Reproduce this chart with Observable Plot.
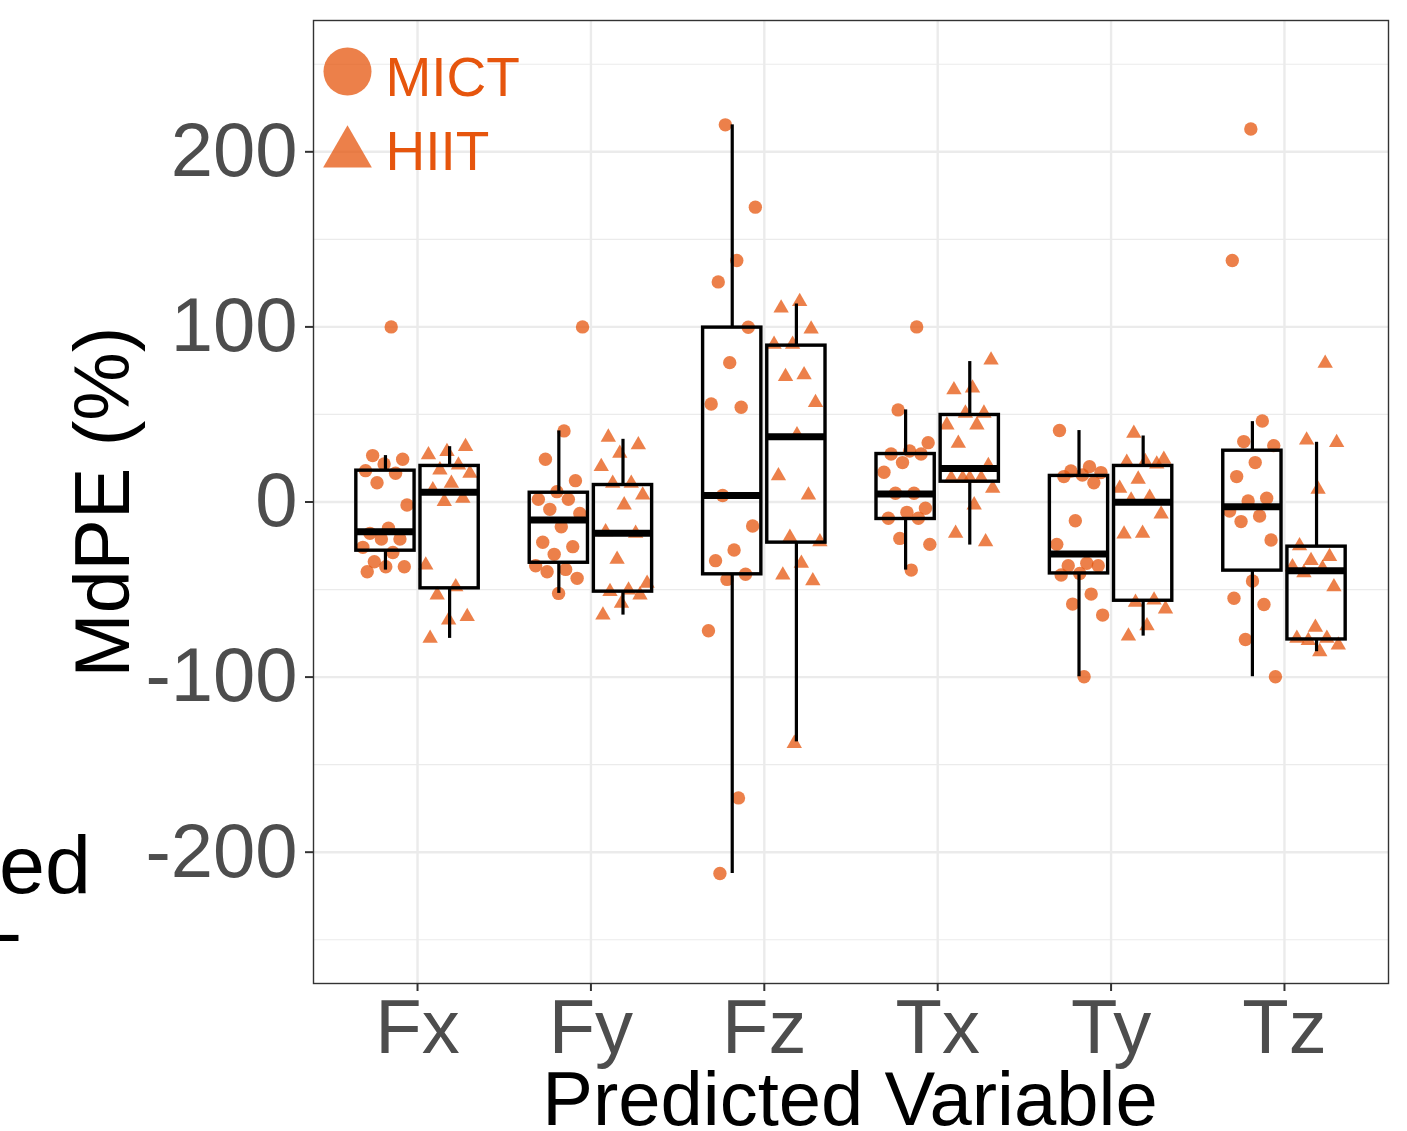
<!DOCTYPE html>
<html>
<head>
<meta charset="utf-8">
<script src="https://cdn.jsdelivr.net/npm/d3@7"></script>
<script src="https://cdn.jsdelivr.net/npm/@observablehq/plot@0.6"></script>
<style>
  html, body { margin: 0; padding: 0; background: #fff; overflow: hidden; }
  #chart { width: 1407px; height: 1131px; position: relative; overflow: hidden; }
</style>
</head>
<body>
<div id="chart"></div>
<script>
// ---------- data ----------
const categories = ["Fx", "Fy", "Fz", "Tx", "Ty", "Tz"];
const groups = ["MICT", "HIIT"];

const fxMICT = [100, 26.5, 24.4, 21.7, 17.9, 16.4, 11.0, -1.7, -15, -17.9, -21.1, -21.1, -25.9, -28.8, -34.1, -37, -37, -39.8];
const fxHIIT = [31.6, 28.8, 26.9, 21.1, 18.3, 16.4, 10.7, 6.9, 2.1, 0.2, -36, -48.4, -53.1, -65.5, -67.4, -77.9];
const fyMICT = [100, 40.6, 24.4, 12.2, 5.9, 1.5, 1.5, -4.2, -6.5, -14.1, -23, -25.5, -29.9, -36.4, -38.5, -39.8, -43.6, -52.2];
const fyHIIT = [37, 32.6, 27.8, 20.2, 10.7, 10.7, 4, -1.7, -17, -17.9, -32.8, -46.5, -50.3, -51.2, -53.1, -57.9, -64.6];
const fzMICT = [215.4, 168.4, 137.9, 125.7, 99.8, 79.6, 56, 54.1, 3.7, -13.7, -27.4, -33.5, -41.3, -44.2, -73.5, -169, -212.2];
const fzHIIT = [114.5, 110.7, 98.7, 90.1, 90.1, 72.6, 71.6, 56.8, 38.3, 14.9, 4, -20.2, -22.7, -35, -41.7, -45, -137.9];
const txMICT = [100, 52.6, 33.9, 29.1, 27.4, 27.4, 22.5, 17, 5, 5, -3.6, -5.9, -9.3, -9.3, -20.8, -24.2, -38.9];
const txHIIT = [81.1, 65, 64, 50.7, 50.7, 44, 44, 33.5, 20.8, 13.5, 13.5, 13.5, 13.5, 7.8, -1.7, -17.9, -22.7];
const tyMICT = [40.8, 20.2, 17.7, 16.8, 15.4, 14.5, 11, -10.7, -24.2, -35, -36.4, -36.4, -40.8, -41.7, -52.6, -58.3, -64.6, -99.8];
const tyHIIT = [39.2, 24.4, 23, 22.7, 21.7, 13, 7.8, 2.7, 1.1, -6.9, -17.9, -18.3, -56, -57.3, -61.1, -70.7, -76.6];
const tzMICT = [213, 137.9, 46.3, 34.5, 32.2, 22.5, 14.5, 2.1, 0.6, -5.1, -8, -11.2, -21.7, -45.1, -55, -58.5, -78.5, -99.8];
const tzHIIT = [79.2, 35.4, 33.9, 7.2, -25, -31.2, -33.5, -37, -37.9, -40.4, -48.4, -71.6, -77.9, -77.9, -79.2, -81.7, -85.5];

// box statistics, order: Fx MICT, Fx HIIT, Fy MICT, Fy HIIT, ... Tz HIIT
const boxQ1     = [-27.8, -49.3, -34.7, -51.2, -41.3, -23.2, -9.7, 11.6, -40.8, -56.4, -39.2, -78.5];
const boxMedian = [-17, 5.5, -10.3, -17.9, 3.7, 37.3, 4.6, 19.2, -29.7, -0.2, -2.7, -39.2];
const boxQ3     = [17.9, 20.6, 5.3, 9.7, 99.6, 89.3, 27.4, 49.7, 14.9, 20.6, 29.3, -25.5];
const boxLow    = [-38.9, -77.9, -52.2, -64.6, -212.2, -137, -38.9, -24.6, -99.8, -76.6, -99.8, -85.5];
const boxHigh   = [26.5, 31.6, 40.6, 35.8, 215.4, 113.1, 52.6, 80.2, 40.8, 37.7, 45.9, 34.1];

const yMajorTicks = [-200, -100, 0, 100, 200];
const yMinorTicks = [-250, -150, -50, 50, 150, 250];

// ---------- build tables ----------
const seriesByCat = [
  [fxMICT, fxHIIT], [fyMICT, fyHIIT], [fzMICT, fzHIIT],
  [txMICT, txHIIT], [tyMICT, tyHIIT], [tzMICT, tzHIIT]
];
const dodge = 0.185;     // group offset (category units)
const halfBox = 0.168;   // half box width
const jitterW = 0.14;    // half jitter width

const points = [];
const boxes = [];
seriesByCat.forEach((pair, ci) => {
  pair.forEach((vals, gi) => {
    const center = ci + (gi === 0 ? -dodge : dodge);
    vals.forEach((v, i) => {
      // deterministic (golden-ratio) spread, not random
      const u = (((i + 1) * 0.6180339887 + ci * 0.37 + gi * 0.21) % 1) - 0.5;
      points.push({cat: categories[ci], group: groups[gi], x: center + u * 2 * jitterW, y: v});
    });
    const k = ci * 2 + gi;
    boxes.push({
      cat: categories[ci], group: groups[gi], x: center,
      q1: boxQ1[k], median: boxMedian[k], q3: boxQ3[k], lo: boxLow[k], hi: boxHigh[k]
    });
  });
});

const ORANGE = "#e6550d";
const FONT = "'Liberation Sans', Arial, Helvetica, sans-serif";

const chart = Plot.plot({
  width: 1407,
  height: 1131,
  marginLeft: 313,
  marginRight: 19,
  marginTop: 20,
  marginBottom: 148,
  style: {fontFamily: FONT, background: "white", overflow: "visible"},
  x: {domain: [-0.6, 5.6]},
  y: {domain: [-275, 275]},
  marks: [
    // grid
    Plot.ruleY(yMinorTicks, {stroke: "#ebebeb", strokeWidth: 1.2}),
    Plot.ruleY(yMajorTicks, {stroke: "#ebebeb", strokeWidth: 2.4}),
    Plot.ruleX(d3.range(categories.length), {stroke: "#ebebeb", strokeWidth: 2.4}),
    // points
    Plot.dot(points.filter(d => d.group === "MICT"), {
      x: "x", y: "y", symbol: "circle", r: 6.7, fill: ORANGE, fillOpacity: 0.75, stroke: "none"
    }),
    Plot.dot(points.filter(d => d.group === "HIIT"), {
      x: "x", y: "y", symbol: "triangle", r: 5.7, fill: ORANGE, fillOpacity: 0.75, stroke: "none"
    }),
    // boxplots
    Plot.ruleX(boxes, {x: "x", y1: "q3", y2: "hi", stroke: "black", strokeWidth: 3.2}),
    Plot.ruleX(boxes, {x: "x", y1: "lo", y2: "q1", stroke: "black", strokeWidth: 3.2}),
    Plot.rect(boxes, {
      x1: d => d.x - halfBox, x2: d => d.x + halfBox, y1: "q1", y2: "q3",
      fill: "none", stroke: "black", strokeWidth: 3.4
    }),
    Plot.ruleY(boxes, {
      y: "median", x1: d => d.x - halfBox, x2: d => d.x + halfBox, stroke: "black", strokeWidth: 7
    }),
    // legend inside the panel
    Plot.dot([groups[0]], {frameAnchor: "top-left", dx: 34, dy: 51, symbol: "circle", r: 24, fill: ORANGE, fillOpacity: 0.75}),
    Plot.dot([groups[1]], {frameAnchor: "top-left", dx: 34, dy: 133, symbol: "triangle", r: 18.1, fill: ORANGE, fillOpacity: 0.75}),
    Plot.text([groups[0]], {frameAnchor: "top-left", text: d => d, dx: 72, dy: 36, textAnchor: "start", fontSize: 55, fill: ORANGE}),
    Plot.text([groups[1]], {frameAnchor: "top-left", text: d => d, dx: 72, dy: 110, textAnchor: "start", fontSize: 55, fill: ORANGE}),
    // frame
    Plot.frame({stroke: "#333333", strokeWidth: 1.4}),
    // axes
    Plot.axisX(d3.range(categories.length), {
      tickFormat: i => categories[i], fontSize: 76, tickSize: 8, tickPadding: 8,
      stroke: "#333333", strokeWidth: 2, fill: "#4d4d4d", label: null
    }),
    Plot.axisY(yMajorTicks, {
      tickFormat: d => String(d), fontSize: 76, tickSize: 8, tickPadding: 8,
      stroke: "#333333", strokeWidth: 2, fill: "#4d4d4d", label: null
    })
  ]
});

document.getElementById("chart").appendChild(chart);

// axis titles and stray cut-off text at the left edge
const svg = d3.select(chart);
svg.append("text")
  .attr("transform", "translate(129,502) rotate(-90)")
  .attr("text-anchor", "middle")
  .attr("font-family", FONT).attr("font-size", 77).attr("fill", "black")
  .text("MdPE (%)");
svg.append("text")
  .attr("x", 850).attr("y", 1125)
  .attr("text-anchor", "middle")
  .attr("font-family", FONT).attr("font-size", 76).attr("fill", "black")
  .text("Predicted Variable");
svg.append("text")
  .attr("x", -1).attr("y", 893)
  .attr("text-anchor", "start")
  .attr("textLength", 92).attr("lengthAdjust", "spacingAndGlyphs")
  .attr("font-family", FONT).attr("font-size", 81).attr("fill", "black")
  .text("ed");
svg.append("text")
  .attr("x", 22).attr("y", 959)
  .attr("text-anchor", "end")
  .attr("font-family", FONT).attr("font-size", 77).attr("fill", "black")
  .text("-");
</script>
</body>
</html>
